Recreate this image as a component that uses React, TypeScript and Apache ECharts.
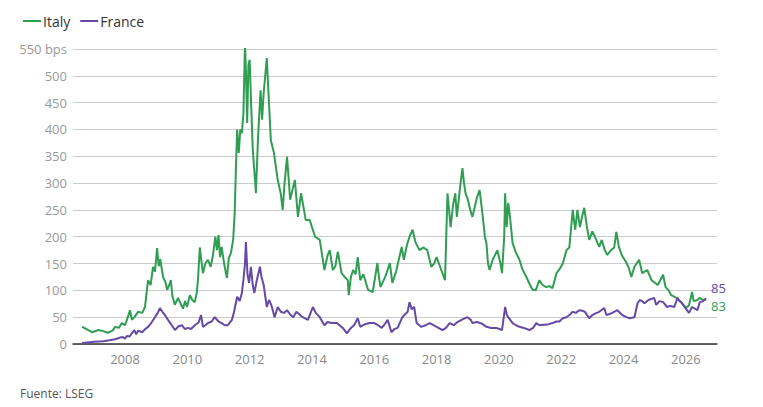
import React, { useEffect, useRef } from "react";
import * as echarts from "echarts";

// Spread vs. Bund, bps. [decimal year, bps]
const italy: [number, number][] = [
  [2006.62, 32], [2006.75, 28], [2006.94, 22], [2007.15, 26], [2007.3, 24], [2007.45, 21], [2007.6, 25],
  [2007.68, 32], [2007.8, 30], [2007.9, 39], [2008.0, 35], [2008.06, 45], [2008.16, 63], [2008.22, 45],
  [2008.3, 50], [2008.42, 60], [2008.55, 58], [2008.64, 69], [2008.74, 119], [2008.82, 110], [2008.9, 144],
  [2008.96, 135], [2009.03, 179], [2009.08, 145], [2009.13, 158], [2009.22, 125], [2009.3, 115], [2009.35, 101],
  [2009.42, 110], [2009.47, 119], [2009.52, 90], [2009.6, 73], [2009.7, 86], [2009.78, 76], [2009.86, 66],
  [2009.93, 80], [2009.99, 69], [2010.08, 91], [2010.16, 82], [2010.24, 78], [2010.3, 95], [2010.34, 119],
  [2010.4, 180], [2010.44, 160], [2010.5, 132], [2010.58, 150], [2010.66, 157], [2010.75, 144], [2010.82, 165],
  [2010.9, 200], [2010.95, 175], [2011.0, 203], [2011.05, 162], [2011.1, 181], [2011.18, 150], [2011.27, 123],
  [2011.33, 160], [2011.4, 170], [2011.47, 194], [2011.52, 244], [2011.56, 330], [2011.6, 400], [2011.65, 356],
  [2011.7, 400], [2011.75, 393], [2011.8, 430], [2011.85, 560], [2011.88, 511], [2011.92, 412], [2011.96, 520],
  [2012.0, 530], [2012.05, 443], [2012.1, 362], [2012.18, 300], [2012.2, 281], [2012.27, 386], [2012.35, 473],
  [2012.4, 418], [2012.45, 468], [2012.55, 533], [2012.6, 473], [2012.68, 380], [2012.78, 356], [2012.9, 306],
  [2013.0, 280], [2013.06, 250], [2013.12, 300], [2013.2, 349], [2013.3, 269], [2013.45, 306], [2013.55, 237],
  [2013.65, 281], [2013.8, 231], [2013.93, 231], [2014.0, 218], [2014.1, 200], [2014.25, 194], [2014.35, 157],
  [2014.4, 138], [2014.5, 165], [2014.57, 175], [2014.67, 138], [2014.75, 145], [2014.83, 172], [2014.95, 132],
  [2015.05, 125], [2015.15, 119], [2015.18, 91], [2015.25, 125], [2015.32, 138], [2015.4, 130], [2015.47, 162],
  [2015.55, 119], [2015.65, 130], [2015.8, 101], [2015.95, 97], [2016.1, 151], [2016.15, 125], [2016.2, 106],
  [2016.35, 125], [2016.5, 151], [2016.58, 114], [2016.7, 135], [2016.88, 181], [2016.95, 157], [2017.05, 185],
  [2017.13, 200], [2017.23, 213], [2017.32, 190], [2017.45, 175], [2017.58, 180], [2017.7, 175], [2017.83, 144],
  [2017.92, 150], [2018.0, 162], [2018.15, 138], [2018.27, 119], [2018.35, 281], [2018.4, 250], [2018.45, 218],
  [2018.53, 260], [2018.6, 281], [2018.65, 237], [2018.75, 290], [2018.83, 328], [2018.88, 300], [2018.93, 281],
  [2019.0, 270], [2019.08, 250], [2019.15, 237], [2019.3, 274], [2019.38, 287], [2019.47, 244], [2019.55, 200],
  [2019.6, 188], [2019.65, 150], [2019.7, 138], [2019.8, 157], [2019.95, 175], [2020.05, 150], [2020.1, 132],
  [2020.17, 200], [2020.2, 281], [2020.25, 218], [2020.3, 263], [2020.35, 240], [2020.44, 188], [2020.55, 170],
  [2020.66, 157], [2020.75, 140], [2020.88, 125], [2021.0, 110], [2021.08, 101], [2021.18, 100], [2021.3, 119],
  [2021.4, 110], [2021.52, 106], [2021.62, 108], [2021.72, 104], [2021.85, 132], [2021.95, 140], [2022.05, 150],
  [2022.17, 175], [2022.26, 180], [2022.37, 250], [2022.45, 213], [2022.52, 250], [2022.6, 218], [2022.68, 240],
  [2022.74, 254], [2022.82, 220], [2022.9, 194], [2023.0, 210], [2023.08, 200], [2023.22, 181], [2023.3, 194],
  [2023.4, 175], [2023.48, 166], [2023.6, 175], [2023.7, 180], [2023.77, 209], [2023.85, 181], [2023.95, 165],
  [2024.1, 151], [2024.18, 140], [2024.25, 125], [2024.35, 144], [2024.5, 157], [2024.6, 132], [2024.76, 138],
  [2024.9, 119], [2025.1, 110], [2025.27, 129], [2025.35, 106], [2025.45, 100], [2025.53, 91], [2025.7, 86],
  [2025.85, 78], [2026.0, 67], [2026.1, 72], [2026.2, 97], [2026.25, 80], [2026.37, 82], [2026.45, 86],
  [2026.55, 82], [2026.65, 83],
];

const france: [number, number][] = [
  [2006.62, 2], [2006.8, 3], [2007.0, 4], [2007.3, 5], [2007.5, 7], [2007.68, 9], [2007.85, 12], [2007.93, 13],
  [2008.0, 10], [2008.06, 15], [2008.15, 14], [2008.22, 20], [2008.3, 26], [2008.36, 18], [2008.42, 25],
  [2008.55, 22], [2008.65, 28], [2008.74, 32], [2008.85, 40], [2008.96, 50], [2009.05, 58], [2009.12, 67],
  [2009.2, 60], [2009.28, 54], [2009.38, 45], [2009.5, 35], [2009.6, 26], [2009.72, 33], [2009.83, 35],
  [2009.92, 28], [2010.02, 30], [2010.12, 28], [2010.24, 35], [2010.36, 40], [2010.44, 54], [2010.5, 32],
  [2010.58, 35], [2010.66, 39], [2010.78, 42], [2010.88, 50], [2011.0, 42], [2011.1, 39], [2011.2, 35],
  [2011.3, 35], [2011.43, 45], [2011.5, 60], [2011.6, 88], [2011.68, 80], [2011.75, 95], [2011.8, 120],
  [2011.85, 150], [2011.88, 190], [2011.93, 130], [2011.98, 114], [2012.04, 144], [2012.1, 110], [2012.15, 95],
  [2012.23, 119], [2012.33, 144], [2012.38, 125], [2012.45, 110], [2012.55, 69], [2012.62, 82], [2012.7, 72],
  [2012.8, 50], [2012.9, 69], [2013.0, 60], [2013.1, 58], [2013.2, 63], [2013.3, 55], [2013.4, 50],
  [2013.5, 60], [2013.6, 55], [2013.7, 50], [2013.87, 45], [2014.03, 69], [2014.12, 58], [2014.25, 50],
  [2014.4, 35], [2014.5, 41], [2014.63, 39], [2014.8, 39], [2014.99, 30], [2015.12, 20], [2015.25, 30],
  [2015.35, 35], [2015.47, 48], [2015.55, 32], [2015.7, 37], [2015.85, 39], [2016.0, 39], [2016.12, 35],
  [2016.24, 30], [2016.35, 38], [2016.43, 45], [2016.55, 22], [2016.65, 28], [2016.75, 30], [2016.9, 50],
  [2017.07, 60], [2017.13, 78], [2017.2, 65], [2017.28, 69], [2017.36, 39], [2017.5, 32], [2017.65, 35],
  [2017.78, 39], [2017.9, 35], [2018.0, 32], [2018.19, 26], [2018.3, 30], [2018.42, 39], [2018.55, 35],
  [2018.67, 41], [2018.8, 45], [2018.99, 50], [2019.1, 45], [2019.15, 39], [2019.3, 41], [2019.45, 38],
  [2019.6, 32], [2019.75, 30], [2019.92, 30], [2020.1, 26], [2020.2, 69], [2020.25, 55], [2020.3, 50],
  [2020.44, 39], [2020.55, 35], [2020.66, 32], [2020.8, 30], [2020.98, 26], [2021.1, 30], [2021.2, 39],
  [2021.3, 35], [2021.45, 36], [2021.6, 37], [2021.72, 39], [2021.85, 42], [2021.94, 42], [2022.05, 48],
  [2022.17, 50], [2022.28, 55], [2022.36, 60], [2022.47, 58], [2022.58, 63], [2022.68, 62], [2022.76, 60],
  [2022.9, 48], [2023.0, 54], [2023.1, 57], [2023.22, 60], [2023.38, 67], [2023.45, 54], [2023.55, 56],
  [2023.64, 58], [2023.8, 63], [2023.96, 54], [2024.1, 50], [2024.19, 48], [2024.35, 50], [2024.45, 76],
  [2024.52, 82], [2024.6, 80], [2024.67, 76], [2024.8, 82], [2024.98, 86], [2025.05, 73], [2025.15, 80],
  [2025.27, 78], [2025.4, 69], [2025.5, 71], [2025.63, 69], [2025.73, 86], [2025.8, 80], [2025.88, 76],
  [2026.0, 66], [2026.1, 58], [2026.2, 69], [2026.37, 63], [2026.45, 78], [2026.55, 80], [2026.65, 85],
];

const seriesNames = ["Italy", "France"];
const source = "Fuente: LSEG";

const GREEN = "#2f9e52";
const PURPLE = "#6449a6";
const FONT = "'Open Sans', 'Noto Sans', sans-serif";

export default function App() {
  const ref = useRef<HTMLDivElement>(null);
  useEffect(() => {
    if (!ref.current) return;
    const chart = echarts.init(ref.current, undefined, { renderer: "svg" });
    chart.setOption({
      animation: false,
      textStyle: { fontFamily: FONT },
      legend: {
        data: seriesNames,
        left: 18,
        top: 9,
        icon: "rect",
        itemWidth: 18,
        itemHeight: 2,
        itemGap: 10,
        textStyle: { fontSize: 14, color: "#333", fontFamily: FONT, padding: [0, 0, 0, -3] },
      },
      grid: { left: 73, right: 46, top: 49, bottom: 63 },
      xAxis: {
        type: "value",
        min: 2006.33,
        max: 2027.0,
        splitNumber: 10,
        axisLine: { show: true, lineStyle: { color: "#333", width: 1.5 } },
        axisTick: { show: false },
        splitLine: { show: false },
        axisLabel: {
          color: "#888",
          fontSize: 13,
          margin: 8,
          fontFamily: FONT,
          formatter: (v: number) => (Number.isInteger(v) && v % 2 === 0 ? String(v) : ""),
        },
      },
      yAxis: {
        type: "value",
        min: 0,
        max: 550,
        interval: 50,
        axisLine: { show: false },
        axisTick: { show: false },
        splitLine: { lineStyle: { color: "#cccccc", width: 1 } },
        axisLabel: {
          color: "#999",
          fontSize: 13,
          margin: 6,
          fontFamily: FONT,
          formatter: (v: number) => (v === 550 ? "550 bps" : String(v)),
        },
      },
      series: [
        {
          name: "Italy",
          type: "line",
          data: italy,
          showSymbol: false,
          symbol: "none",
          lineStyle: { color: GREEN, width: 2 },
          itemStyle: { color: GREEN },
          z: 3,
          endLabel: {
            show: true,
            formatter: (p: any) => String(p.value[1]),
            color: GREEN,
            fontSize: 13,
            fontFamily: FONT,
            distance: 5,
            offset: [0, 7],
          },
        },
        {
          name: "France",
          type: "line",
          data: france,
          showSymbol: false,
          symbol: "none",
          lineStyle: { color: PURPLE, width: 2 },
          itemStyle: { color: PURPLE },
          z: 4,
          endLabel: {
            show: true,
            formatter: (p: any) => String(p.value[1]),
            color: PURPLE,
            fontSize: 13,
            fontFamily: FONT,
            distance: 5,
            offset: [0, -10],
          },
        },
      ],
      graphic: [
        {
          type: "text",
          left: 20,
          top: 387,
          style: { text: source, fill: "#555", fontSize: 12, fontFamily: FONT },
        },
      ],
    });
    return () => chart.dispose();
  }, []);
  return (
    <div
      ref={ref}
      style={{ position: "fixed", left: 0, top: 0, width: 763, height: 407, background: "#fff" }}
    />
  );
}
